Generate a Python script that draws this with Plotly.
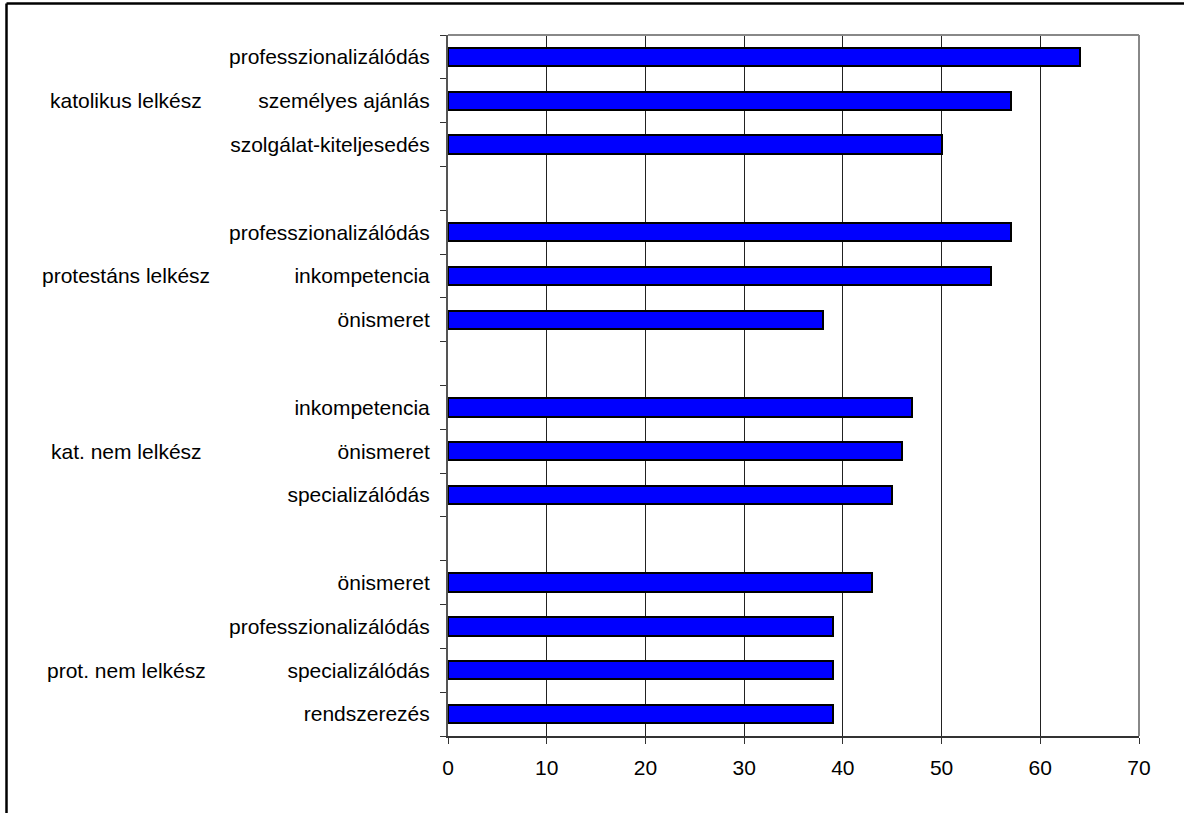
import plotly.graph_objects as go

groups = ["katolikus lelkész", "protestáns lelkész", "kat. nem lelkész", "prot. nem lelkész"]
items = [
    ["professzionalizálódás", "személyes ajánlás", "szolgálat-kiteljesedés"],
    ["professzionalizálódás", "inkompetencia", "önismeret"],
    ["inkompetencia", "önismeret", "specializálódás"],
    ["önismeret", "professzionalizálódás", "specializálódás", "rendszerezés"],
]
values = [
    [64, 57, 50],
    [57, 55, 38],
    [47, 46, 45],
    [43, 39, 39, 39],
]
x_ticks = [0, 10, 20, 30, 40, 50, 60, 70]

# build row layout: items of each group, blank row between groups
row_pos, row_val, row_lab = [], [], []
group_rows = []
r = 0
for gi, (its, vals) in enumerate(zip(items, values)):
    group_rows.append(r + len(its) // 2)
    for it, v in zip(its, vals):
        row_pos.append(r)
        row_val.append(v)
        row_lab.append(it)
        r += 1
    if gi < len(groups) - 1:
        r += 1
n_rows = r

FONT = "Liberation Sans, Arial, sans-serif"
FS = 21

fig = go.Figure()
fig.add_trace(go.Bar(
    x=row_val, y=row_pos, orientation="h", width=0.42,
    marker=dict(color="#0000FF", line=dict(color="black", width=2)),
    hoverinfo="x",
))

fig.update_layout(
    width=1184, height=813,
    margin=dict(l=448, r=45, t=35, b=77),
    paper_bgcolor="white", plot_bgcolor="white",
    showlegend=False,
    font=dict(family=FONT, size=FS, color="black"),
    bargap=0,
)
fig.update_xaxes(
    range=[0, 70], tickvals=x_ticks, ticktext=[str(t) for t in x_ticks],
    showgrid=True, gridcolor="#222222", gridwidth=1,
    showline=True, linecolor="#333333", linewidth=2,
    ticks="outside", ticklen=6, tickcolor="#333333", tickwidth=1,
    ticklabelstandoff=6,
    zeroline=False, tickfont=dict(size=FS),
)
fig.update_yaxes(
    range=[n_rows - 0.5, -0.5], tickvals=row_pos, ticktext=row_lab,
    ticks="outside", ticklen=12, tickcolor="rgba(0,0,0,0)",
    showline=True, linecolor="#555555", linewidth=2,
    showgrid=False, zeroline=False,
    minor=dict(ticks="outside", ticklen=6, tickcolor="#333333", tickwidth=1,
               tickmode="linear", tick0=-0.5, dtick=1, showgrid=False),
    tickfont=dict(size=FS),
)

# plot-area border (top & right, gray)
fig.add_shape(type="line", xref="paper", yref="paper", x0=0, x1=1, y0=1, y1=1,
              line=dict(color="#888888", width=2))
fig.add_shape(type="line", xref="paper", yref="paper", x0=1, x1=1, y0=0, y1=1,
              line=dict(color="#888888", width=2))

# outer chart frame (top & left visible)
fig.add_shape(type="line", xref="paper", yref="paper",
              x0=(6.5 - 448) / 691, x1=1.07, y0=(736 - 3.5) / 701, y1=(736 - 3.5) / 701,
              line=dict(color="black", width=2.5))
fig.add_shape(type="line", xref="paper", yref="paper",
              x0=(6.5 - 448) / 691, x1=(6.5 - 448) / 691, y0=-0.2, y1=(736 - 3.5) / 701,
              line=dict(color="black", width=2.5))

for g, gr in zip(groups, group_rows):
    fig.add_annotation(text=g, xref="paper", yref="y", x=(126 - 448) / 691, y=gr,
                       xanchor="center", yanchor="middle", showarrow=False,
                       font=dict(family=FONT, size=FS, color="black"))

fig.write_html("out.html")
